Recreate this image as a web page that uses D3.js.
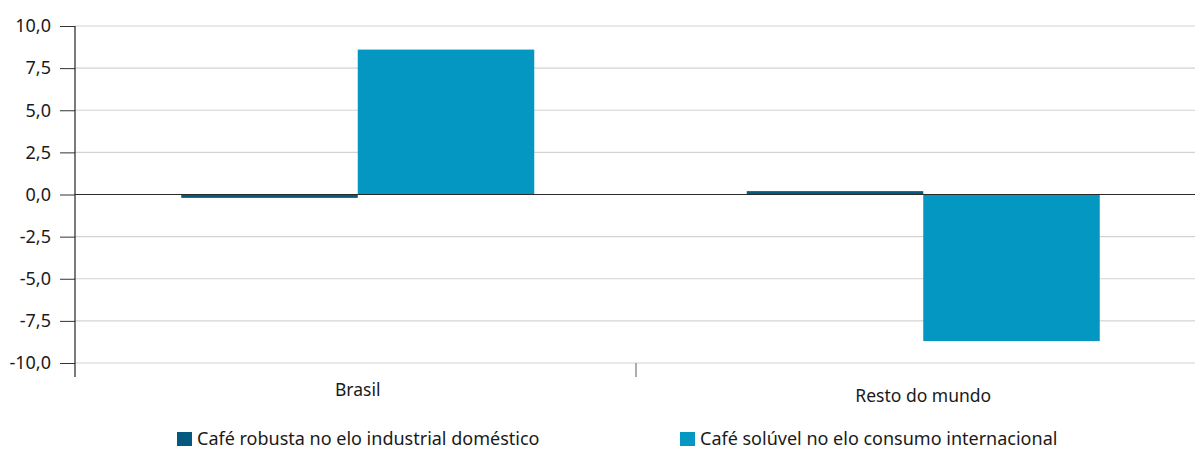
<!DOCTYPE html>
<html>
<head>
<meta charset="utf-8">
<script src="https://cdn.jsdelivr.net/npm/d3@7"></script>
<style>
  html, body { margin: 0; padding: 0; background: #fff; }
  svg text { font-family: "Noto Sans", "Open Sans", sans-serif; fill: #1a1a1a; }
</style>
</head>
<body>
<svg id="chart" width="1195" height="450"></svg>
<script>
// Regions on the x axis
const categories = ["Brasil", "Resto do mundo"];
// Series (variation, %)
const seriesNames = ["Café robusta no elo industrial doméstico", "Café solúvel no elo consumo internacional"];
const robusta = [-0.2, 0.2];
const soluvel = [8.6, -8.7];
const yTicks = [10, 7.5, 5, 2.5, 0, -2.5, -5, -7.5, -10];
const colors = ["#035a7e", "#0397c2"];

const svg = d3.select("#chart");
// the band scale runs slightly past the visible right edge; lines stop at the edge
const plotLeft = 75, bandRight = 1206, viewRight = 1195, plotTop = 26, plotBottom = 363, axisEnd = 377;

const x = d3.scaleBand().domain(categories).range([plotLeft, bandRight]).paddingInner(0).paddingOuter(0);
const inner = d3.scaleBand().domain([0, 1]).range([0, x.bandwidth()]).paddingOuter(0.602).paddingInner(0);
const y = d3.scaleLinear().domain([-10, 10]).range([plotBottom, plotTop]);

const fmt = v => d3.format(".1f")(v).replace(".", ",").replace("\u2212", "-");

// gridlines
svg.append("g").selectAll("line").data(yTicks.filter(v => v !== 0)).join("line")
  .attr("x1", plotLeft).attr("x2", viewRight)
  .attr("y1", d => y(d)).attr("y2", d => y(d))
  .attr("stroke", "#d3d3d3").attr("stroke-width", 1.2);

// y axis
const yAxis = svg.append("g").attr("transform", `translate(${plotLeft},0)`)
  .call(d3.axisLeft(y).tickValues(yTicks).tickFormat(fmt).tickSize(15).tickPadding(9));
yAxis.select(".domain").remove();
yAxis.selectAll(".tick line").attr("stroke", "#333");
yAxis.selectAll(".tick text").style("font-size", "18px").attr("fill", "#1a1a1a");
svg.append("line").attr("x1", plotLeft).attr("x2", plotLeft).attr("y1", plotTop).attr("y2", axisEnd)
  .attr("stroke", "#222").attr("stroke-width", 1.2);

// bars
const data = categories.map((c, i) => ({ cat: c, values: [robusta[i], soluvel[i]] }));
const groups = svg.append("g").selectAll("g").data(data).join("g")
  .attr("transform", d => `translate(${x(d.cat)},0)`);
groups.selectAll("rect").data(d => d.values.map((v, k) => ({ v, k }))).join("rect")
  .attr("x", d => inner(d.k))
  .attr("width", inner.bandwidth())
  .attr("y", d => y(Math.max(0, d.v)))
  .attr("height", d => Math.abs(y(d.v) - y(0)))
  .attr("fill", d => colors[d.k]);

// zero line
svg.append("line").attr("x1", plotLeft).attr("x2", viewRight).attr("y1", y(0)).attr("y2", y(0))
  .attr("stroke", "#2a2a2a").attr("stroke-width", 1.2);

// category separator tick
const sepX = x(categories[1]) - 4.5;
svg.append("line").attr("x1", sepX).attr("x2", sepX)
  .attr("y1", y(-10)).attr("y2", axisEnd).attr("stroke", "#777").attr("stroke-width", 1.2);

// category labels (staggered)
const labelY = [396, 402];
svg.append("g").selectAll("text").data(categories).join("text")
  .attr("x", d => x(d) + x.bandwidth() / 2)
  .attr("y", (d, i) => labelY[i])
  .attr("text-anchor", "middle")
  .style("font-size", "17.5px")
  .text(d => d);

// legend
const legendX = [177, 680];
const lg = svg.append("g").selectAll("g").data(seriesNames).join("g")
  .attr("transform", (d, i) => `translate(${legendX[i]},432)`);
lg.append("rect").attr("width", 15).attr("height", 14).attr("fill", (d, i) => colors[i]);
lg.append("text").attr("x", 20).attr("y", 12.5).style("font-size", "18px").text(d => d);
</script>
</body>
</html>
